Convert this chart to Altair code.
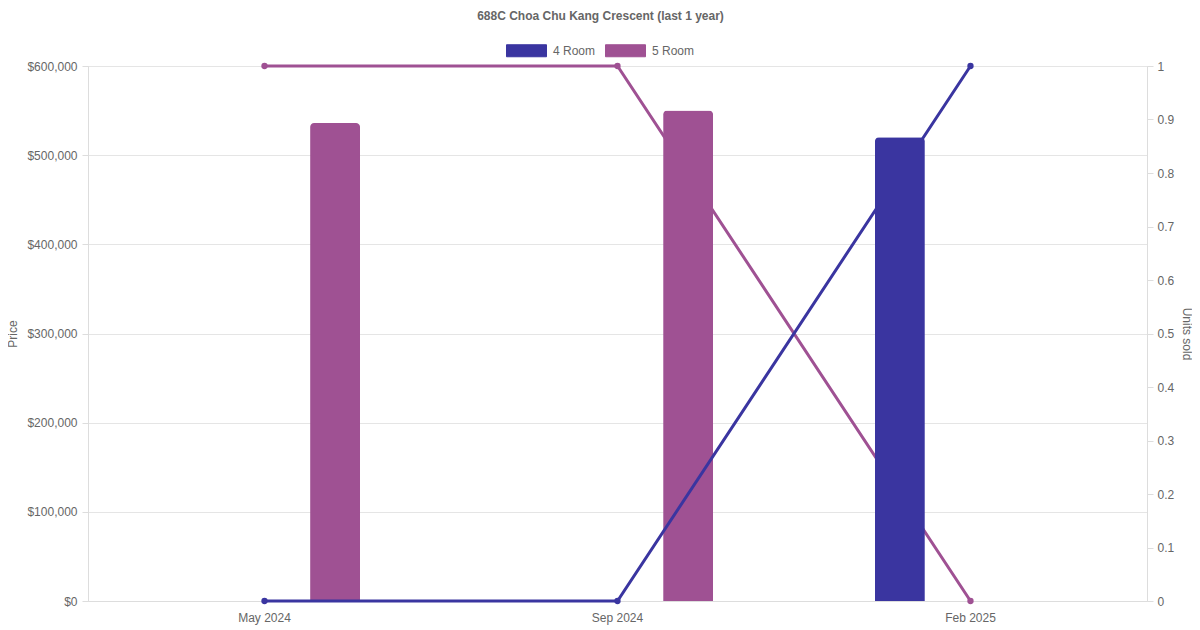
import altair as alt
import pandas as pd

months = ["May 2024", "Sep 2024", "Feb 2025"]
rooms = ["4 Room", "5 Room"]
price_4room = [None, None, 520000]
price_5room = [536000, 550000, None]
units_4room = [0, 0, 1]
units_5room = [1, 1, 0]
colors = ["#3a35a0", "#9f5193"]

rows = []
for i, m in enumerate(months):
    rows.append({"month": m, "room": "4 Room", "price": price_4room[i], "units": units_4room[i]})
    rows.append({"month": m, "room": "5 Room", "price": price_5room[i], "units": units_5room[i]})
df = pd.DataFrame(rows)

FONT = "Liberation Sans"
GRAY = "#666666"

x_enc = alt.X("month:N", sort=months, title=None,
              scale=alt.Scale(paddingInner=0, paddingOuter=0),
              axis=alt.Axis(labelAngle=0, ticks=False, labelPadding=11, grid=False,
                            domainColor="#dddddd", labelFontSize=12, labelColor=GRAY))
color_scale = alt.Scale(domain=rooms, range=colors)
xoff = alt.XOffset("room:N", scale=alt.Scale(domain=rooms, paddingInner=0.646, paddingOuter=0.573))

price_scale = alt.Scale(domain=[0, 600000], nice=False)
units_scale = alt.Scale(domain=[0, 1], nice=False)

legend = alt.Legend(title=None, orient="none", legendX=418, legendY=-36, direction="horizontal",
                    symbolType="M-1,-0.3H1V0.3H-1Z", symbolSize=1600, symbolStrokeWidth=1,
                    labelFontSize=12, labelColor=GRAY, labelFont=FONT, labelOffset=6,
                    columnPadding=7, padding=0)

def line_layer(room, axis):
    return alt.Chart(df).transform_filter(alt.datum.room == room).mark_line(
        strokeWidth=3, point=alt.OverlayMarkDef(filled=True, size=40)
    ).encode(
        x=x_enc,
        y=alt.Y("units:Q", scale=units_scale, axis=axis),
        color=alt.Color("room:N", scale=color_scale, legend=legend),
    )

def bar_layer(room, axis):
    return alt.Chart(df).transform_filter(
        (alt.datum.room == room) & alt.expr.isValid(alt.datum.price)
    ).mark_bar(cornerRadiusTopLeft=4, cornerRadiusTopRight=4).encode(
        x=x_enc,
        xOffset=xoff,
        y=alt.Y("price:Q", scale=price_scale, axis=axis),
        color=alt.Color("room:N", scale=color_scale, legend=legend),
    )

right_axis = alt.Axis(orient="right", title="Units sold", grid=False,
                      values=[i / 10 for i in range(11)], format=".1~f",
                      tickSize=6, labelPadding=4, domainColor="#dddddd", tickColor="#dddddd",
                      titleAngle=90, titleX=39, titleY=267.5, titleBaseline="middle",
                      titleAlign="center", titleFontWeight="normal", titleFontSize=12,
                      titleColor=GRAY, labelColor=GRAY, labelFontSize=12)
left_axis = alt.Axis(orient="left", title="Price", grid=True, gridColor="#e5e5e5",
                     values=[0, 100000, 200000, 300000, 400000, 500000, 600000],
                     format="$,.0f", tickSize=6, labelPadding=5,
                     domainColor="#dddddd", tickColor="#dddddd",
                     titleAngle=-90, titleX=-76, titleY=267.5, titleBaseline="middle",
                     titleAlign="center", titleFontWeight="normal", titleFontSize=12,
                     titleColor=GRAY, labelColor=GRAY, labelFontSize=12)

chart = alt.layer(
    line_layer("5 Room", right_axis),
    bar_layer("5 Room", left_axis),
    line_layer("4 Room", None),
    bar_layer("4 Room", None),
).resolve_scale(y="independent").properties(
    width=1059, height=535,
    title=alt.Title("688C Choa Chu Kang Crescent (last 1 year)", fontSize=12, font=FONT,
                    fontWeight="bold", color=GRAY, anchor="middle", offset=7, dx=-17),
    autosize=alt.AutoSizeParams(type="none"),
    padding={"left": 80, "top": 58, "right": 45, "bottom": 29},
).configure_view(stroke=None).configure_axis(
    labelFont=FONT, titleFont=FONT
).configure(font=FONT)

chart.save("out.html", embed_options={"renderer": "svg", "actions": False})
